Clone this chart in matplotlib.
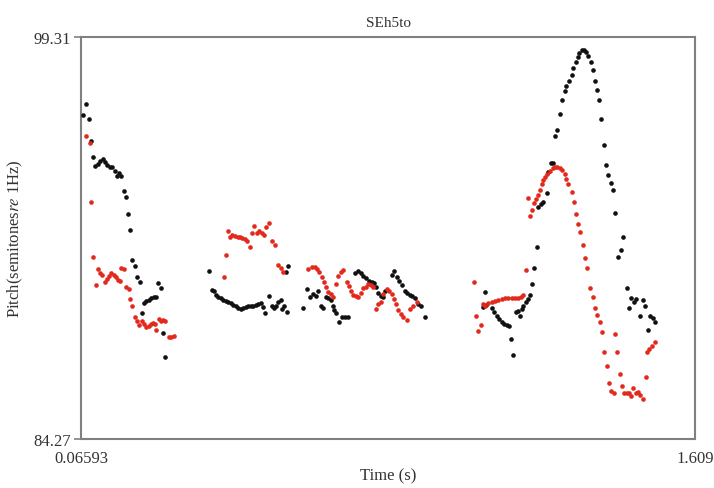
import matplotlib
matplotlib.use("Agg")
import matplotlib.pyplot as plt

plt.rcParams['font.family'] = ['Liberation Serif', 'DejaVu Serif']
plt.rcParams['mathtext.fontset'] = 'stix'

# pitch track (black), one list per voiced stretch
black_t1 = [0.079, 0.071, 0.086, 0.090, 0.096, 0.102, 0.109, 0.114, 0.121, 0.126, 0.132, 0.138,
            0.145, 0.151, 0.156, 0.161, 0.167, 0.173, 0.178, 0.184, 0.190, 0.195, 0.201, 0.207,
            0.213, 0.218, 0.224, 0.230, 0.237, 0.243, 0.249, 0.255, 0.259, 0.266, 0.272, 0.278]
black_p1 = [96.80, 96.40, 96.24, 95.43, 94.81, 94.50, 94.56, 94.68, 94.75, 94.65, 94.53, 94.46,
            94.44, 94.31, 94.12, 94.21, 94.12, 93.56, 93.31, 92.69, 92.09, 90.97, 90.75, 90.32,
            90.13, 88.97, 89.35, 89.42, 89.47, 89.55, 89.59, 89.59, 90.10, 89.91, 88.23, 87.35]

black_t2 = [0.388, 0.394, 0.400, 0.405, 0.411, 0.417, 0.424, 0.430, 0.436, 0.442, 0.449, 0.455,
            0.461, 0.467, 0.474, 0.480, 0.486, 0.493, 0.499, 0.506, 0.511, 0.518, 0.524, 0.528,
            0.538, 0.545, 0.551, 0.556, 0.562, 0.569, 0.572, 0.577, 0.581, 0.587, 0.583]
black_p2 = [90.56, 89.85, 89.82, 89.66, 89.57, 89.53, 89.47, 89.43, 89.39, 89.35, 89.28, 89.24,
            89.18, 89.13, 89.17, 89.20, 89.24, 89.26, 89.26, 89.28, 89.33, 89.35, 89.22, 88.98,
            89.61, 89.26, 89.16, 89.26, 89.39, 89.48, 89.13, 89.24, 90.53, 90.75, 89.03]

black_t3 = [0.625, 0.633, 0.641, 0.650, 0.656, 0.662, 0.669, 0.675, 0.681, 0.687, 0.694, 0.698,
            0.703, 0.708, 0.715, 0.721, 0.729, 0.738, 0.755, 0.763, 0.769, 0.775, 0.782, 0.790,
            0.796, 0.802, 0.807, 0.813, 0.820, 0.826, 0.830, 0.847, 0.853, 0.859, 0.866, 0.872,
            0.880, 0.886, 0.893, 0.898, 0.905, 0.912, 0.920, 0.930]
black_p3 = [89.16, 89.88, 89.57, 89.70, 89.63, 89.80, 89.26, 89.16, 89.57, 89.53, 89.47, 89.24,
            89.11, 88.97, 88.64, 88.82, 88.85, 88.85, 90.47, 90.57, 90.48, 90.38, 90.29, 90.19,
            90.13, 90.10, 89.95, 89.72, 89.63, 89.57, 89.80, 90.42, 90.55, 90.32, 90.19, 90.04,
            89.82, 89.73, 89.67, 89.63, 89.53, 89.32, 89.26, 88.85]

black_t4 = [1.081, 1.075, 1.084, 1.098, 1.104, 1.111, 1.117, 1.123, 1.130, 1.137, 1.142, 1.147,
            1.152, 1.159, 1.165, 1.169, 1.173, 1.177, 1.184, 1.190, 1.194, 1.199, 1.205, 1.211,
            1.215, 1.221, 1.226, 1.236, 1.240, 1.246, 1.251, 1.257, 1.263, 1.270, 1.275, 1.282,
            1.286, 1.293, 1.299, 1.303, 1.309, 1.314, 1.318, 1.324, 1.330, 1.335, 1.341, 1.347,
            1.352, 1.358, 1.362, 1.368, 1.374, 1.380, 1.385, 1.391, 1.398, 1.404, 1.408, 1.427,
            1.422, 1.416, 1.439, 1.447, 1.444, 1.456, 1.460, 1.479, 1.484, 1.471, 1.496, 1.503,
            1.508, 1.491]
black_p4 = [89.76, 89.22, 89.28, 89.16, 89.01, 88.88, 88.76, 88.66, 88.57, 88.54, 88.51, 88.01,
            87.41, 89.03, 89.07, 88.88, 89.13, 89.26, 89.41, 89.51, 89.66, 90.07, 90.66, 91.44,
            92.94, 93.06, 93.15, 93.47, 94.27, 94.60, 94.59, 95.62, 95.83, 96.43, 96.96, 97.30,
            97.47, 97.68, 97.89, 98.14, 98.36, 98.55, 98.71, 98.83, 98.83, 98.76, 98.61, 98.36,
            98.09, 97.68, 97.34, 96.95, 96.24, 95.27, 94.52, 94.16, 93.84, 93.59, 92.71, 91.82,
            91.35, 91.09, 89.91, 89.53, 89.16, 89.41, 89.51, 89.48, 89.26, 88.86, 88.86, 88.79,
            88.64, 88.35]

# second track (red)
red_t1 = [0.079, 0.088, 0.092, 0.096, 0.103, 0.109, 0.114, 0.119, 0.125, 0.131, 0.136, 0.142,
          0.148, 0.153, 0.159, 0.165, 0.167, 0.173, 0.180, 0.186, 0.188, 0.195, 0.201, 0.207,
          0.212, 0.218, 0.224, 0.230, 0.236, 0.241, 0.247, 0.253, 0.255, 0.261, 0.266, 0.272,
          0.278, 0.286, 0.293, 0.299]
red_p1 = [95.62, 95.33, 93.13, 91.07, 90.03, 90.63, 90.47, 90.41, 90.13, 90.26, 90.38, 90.47,
          90.42, 90.32, 90.22, 90.19, 90.67, 90.63, 89.97, 89.88, 89.51, 89.26, 88.85, 88.70,
          88.55, 88.70, 88.57, 88.47, 88.51, 88.57, 88.60, 88.57, 88.35, 88.76, 88.70, 88.72,
          88.67, 88.08, 88.10, 88.11]

red_t2 = [0.426, 0.430, 0.435, 0.440, 0.446, 0.453, 0.460, 0.465, 0.471, 0.478, 0.482, 0.491,
          0.495, 0.501, 0.507, 0.514, 0.520, 0.526, 0.530, 0.539, 0.547, 0.553, 0.562, 0.568,
          0.573]
red_p2 = [90.34, 91.17, 92.06, 91.84, 91.91, 91.88, 91.84, 91.82, 91.78, 91.75, 91.67, 91.47,
          91.98, 92.23, 91.98, 92.04, 91.98, 91.90, 92.19, 92.35, 91.67, 91.54, 90.78, 90.66,
          90.51]

red_t3 = [0.637, 0.646, 0.654, 0.660, 0.665, 0.671, 0.677, 0.682, 0.687, 0.693, 0.700, 0.708,
          0.713, 0.719, 0.725, 0.734, 0.739, 0.744, 0.750, 0.757, 0.763, 0.769, 0.775, 0.782,
          0.788, 0.795, 0.800, 0.807, 0.813, 0.820, 0.826, 0.834, 0.841, 0.847, 0.853, 0.858,
          0.863, 0.869, 0.876, 0.884, 0.893, 0.901, 0.910]
red_p3 = [90.63, 90.69, 90.72, 90.63, 90.51, 90.32, 90.13, 89.95, 89.78, 89.70, 89.57, 90.07,
          90.38, 90.51, 90.59, 90.13, 90.01, 89.82, 89.67, 89.63, 89.57, 89.72, 89.92, 89.97,
          90.07, 90.03, 89.95, 89.13, 89.32, 89.39, 89.70, 89.88, 89.80, 89.70, 89.51, 89.32,
          89.10, 88.95, 88.85, 88.72, 89.13, 89.26, 89.39]

red_t4 = [1.054, 1.059, 1.071, 1.064, 1.075, 1.081, 1.089, 1.098, 1.106, 1.115, 1.123, 1.131,
          1.140, 1.148, 1.157, 1.165, 1.171, 1.177, 1.184, 1.194, 1.199, 1.205, 1.209, 1.190,
          1.215, 1.219, 1.224, 1.228, 1.232, 1.238, 1.245, 1.251, 1.257, 1.263, 1.270, 1.275,
          1.282, 1.286, 1.290, 1.301, 1.306, 1.310, 1.316, 1.320, 1.327, 1.332, 1.338, 1.345,
          1.352, 1.358, 1.363, 1.370, 1.376, 1.381, 1.387, 1.393, 1.399, 1.405, 1.408, 1.413,
          1.420, 1.425, 1.430, 1.437, 1.444, 1.448, 1.454, 1.460, 1.466, 1.471, 1.478, 1.486,
          1.489, 1.494, 1.500, 1.508]
red_p4 = [90.16, 88.88, 88.55, 88.32, 89.32, 89.26, 89.36, 89.39, 89.44, 89.48, 89.51, 89.53,
          89.55, 89.55, 89.55, 89.55, 89.57, 89.67, 90.59, 92.62, 92.84, 93.10, 93.25, 93.28,
          93.40, 93.60, 93.81, 93.97, 94.08, 94.19, 94.31, 94.40, 94.44, 94.46, 94.41, 94.33,
          94.19, 94.00, 93.81, 93.50, 93.13, 92.69, 92.31, 92.03, 91.53, 91.03, 90.66, 89.91,
          89.59, 89.16, 88.91, 88.64, 88.29, 87.54, 86.99, 86.37, 86.08, 85.99, 88.20, 87.52,
          86.70, 86.24, 85.99, 85.99, 85.99, 85.89, 86.17, 85.99, 86.04, 85.92, 85.77, 86.60,
          87.54, 87.64, 87.76, 87.89]

t_min, t_max = 0.06593, 1.609
p_min, p_max = 84.27, 99.31

fig = plt.figure(figsize=(7.14, 4.89), dpi=100)
ax = fig.add_axes([81 / 714, 49 / 489, 614 / 714, 402 / 489])

black = black_t1 + black_t2 + black_t3 + black_t4, black_p1 + black_p2 + black_p3 + black_p4
red = red_t1 + red_t2 + red_t3 + red_t4, red_p1 + red_p2 + red_p3 + red_p4
ax.scatter(black[0], black[1], s=11, color='#111111', linewidths=0, zorder=3)
ax.scatter(red[0], red[1], s=11, color='#e3281c', linewidths=0, zorder=3)

ax.set_xlim(t_min, t_max)
ax.set_ylim(p_min, p_max)
ax.set_xticks([t_min, t_max])
ax.set_xticklabels(['0.06593', '1.609'])
ax.set_yticks([p_min, p_max])
ax.set_yticklabels(['84.27', '99.31'])

for s in ax.spines.values():
    s.set_color('#808080')
    s.set_linewidth(1.5)
ax.tick_params(axis='y', length=5, width=1.2, color='#808080', labelsize=12, pad=2,
               labelcolor='#333333')
ax.tick_params(axis='x', length=0, labelsize=12, pad=8, labelcolor='#333333')

ax.set_title('SEh5to', fontsize=11, color='#333333', pad=8)
ax.set_xlabel('Time (s)', fontsize=12, color='#333333', labelpad=1)
ax.set_ylabel(r'Pitch(semitones$\it{re}$ 1Hz)', fontsize=12, color='#333333', labelpad=6)

fig.savefig('out.png', dpi=100)
